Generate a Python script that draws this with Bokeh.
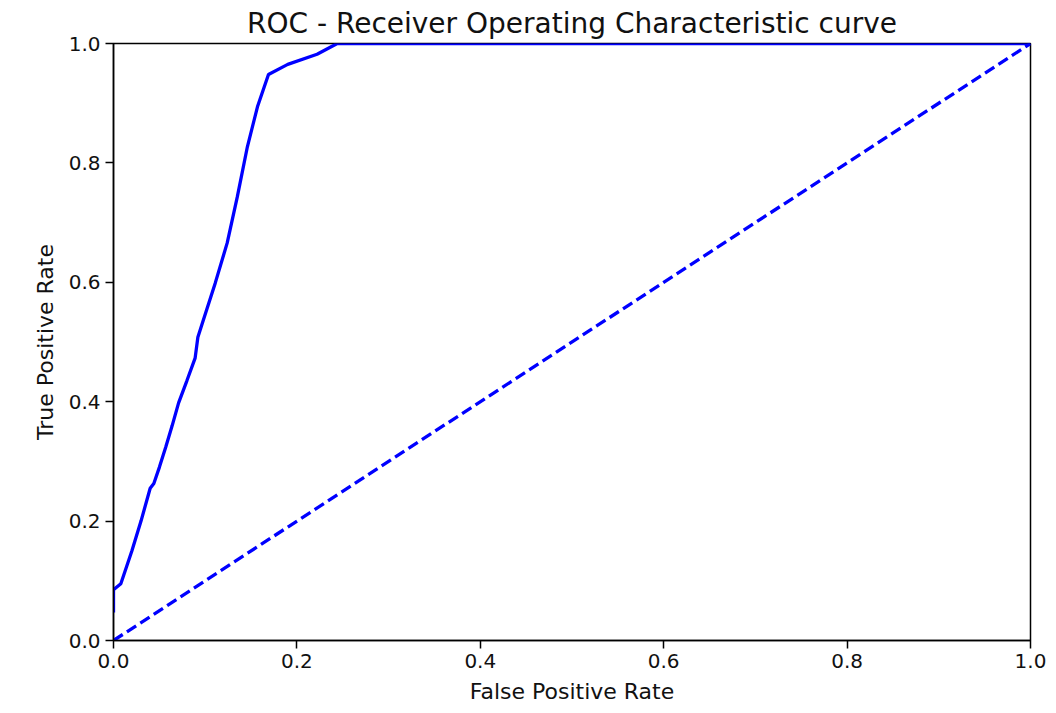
from bokeh.plotting import figure
from bokeh.models import Range1d, FixedTicker, PrintfTickFormatter
from bokeh.embed import file_html
from bokeh.resources import INLINE

# ROC curve points
fpr = [0.0, 0.0, 0.008, 0.020, 0.030, 0.040, 0.044, 0.050, 0.057, 0.064, 0.071,
       0.080, 0.089, 0.092, 0.098, 0.111, 0.124, 0.135, 0.146, 0.157, 0.169,
       0.190, 0.222, 0.244, 1.0]
tpr = [0.047, 0.085, 0.095, 0.150, 0.200, 0.255, 0.263, 0.290, 0.324, 0.360, 0.398,
       0.435, 0.473, 0.508, 0.537, 0.599, 0.666, 0.743, 0.827, 0.894, 0.948,
       0.965, 0.982, 1.0, 1.0]
# chance diagonal
diag_x = [0.0, 1.0]
diag_y = [0.0, 1.0]
ticks = [0.0, 0.2, 0.4, 0.6, 0.8, 1.0]

FONT = "DejaVu Sans"

p = figure(width=1048, height=706, output_backend="svg", toolbar_location=None,
           x_range=Range1d(0, 1), y_range=Range1d(0, 1),
           title="ROC - Receiver Operating Characteristic curve",
           min_border_left=113, min_border_right=18, min_border_top=42,
           min_border_bottom=62)

p.line(fpr, tpr, line_color="#0000ff", line_width=3.3)
p.line(diag_x, diag_y, line_color="#0000ff", line_width=3.3, line_dash="11 5")

p.title.text_font = FONT
p.title.text_font_size = "28px"
p.title.text_font_style = "normal"
p.title.text_color = "#111111"
p.title.align = "center"
p.title.standoff = 8

p.xgrid.visible = False
p.ygrid.visible = False
p.outline_line_color = "black"
p.outline_line_width = 1.5
p.outline_line_alpha = 1.0

for ax in (p.xaxis[0], p.yaxis[0]):
    ax.ticker = FixedTicker(ticks=ticks)
    ax.formatter = PrintfTickFormatter(format="%.1f")
    ax.minor_tick_line_color = None
    ax.major_tick_in = 0
    ax.major_tick_out = 8
    ax.major_tick_line_color = "black"
    ax.major_tick_line_width = 1.5
    ax.axis_line_color = "black"
    ax.axis_line_width = 1.5
    ax.major_label_text_font = FONT
    ax.major_label_text_font_size = "20px"
    ax.major_label_text_color = "#111111"
    ax.major_label_standoff = 5
    ax.axis_label_text_font = FONT
    ax.axis_label_text_font_size = "22px"
    ax.axis_label_text_font_style = "normal"
    ax.axis_label_text_color = "#111111"
    ax.axis_label_standoff = 8

p.xaxis.axis_label = "False Positive Rate"
p.yaxis.axis_label = "True Positive Rate"

open("out.html", "w").write(file_html(p, INLINE))
